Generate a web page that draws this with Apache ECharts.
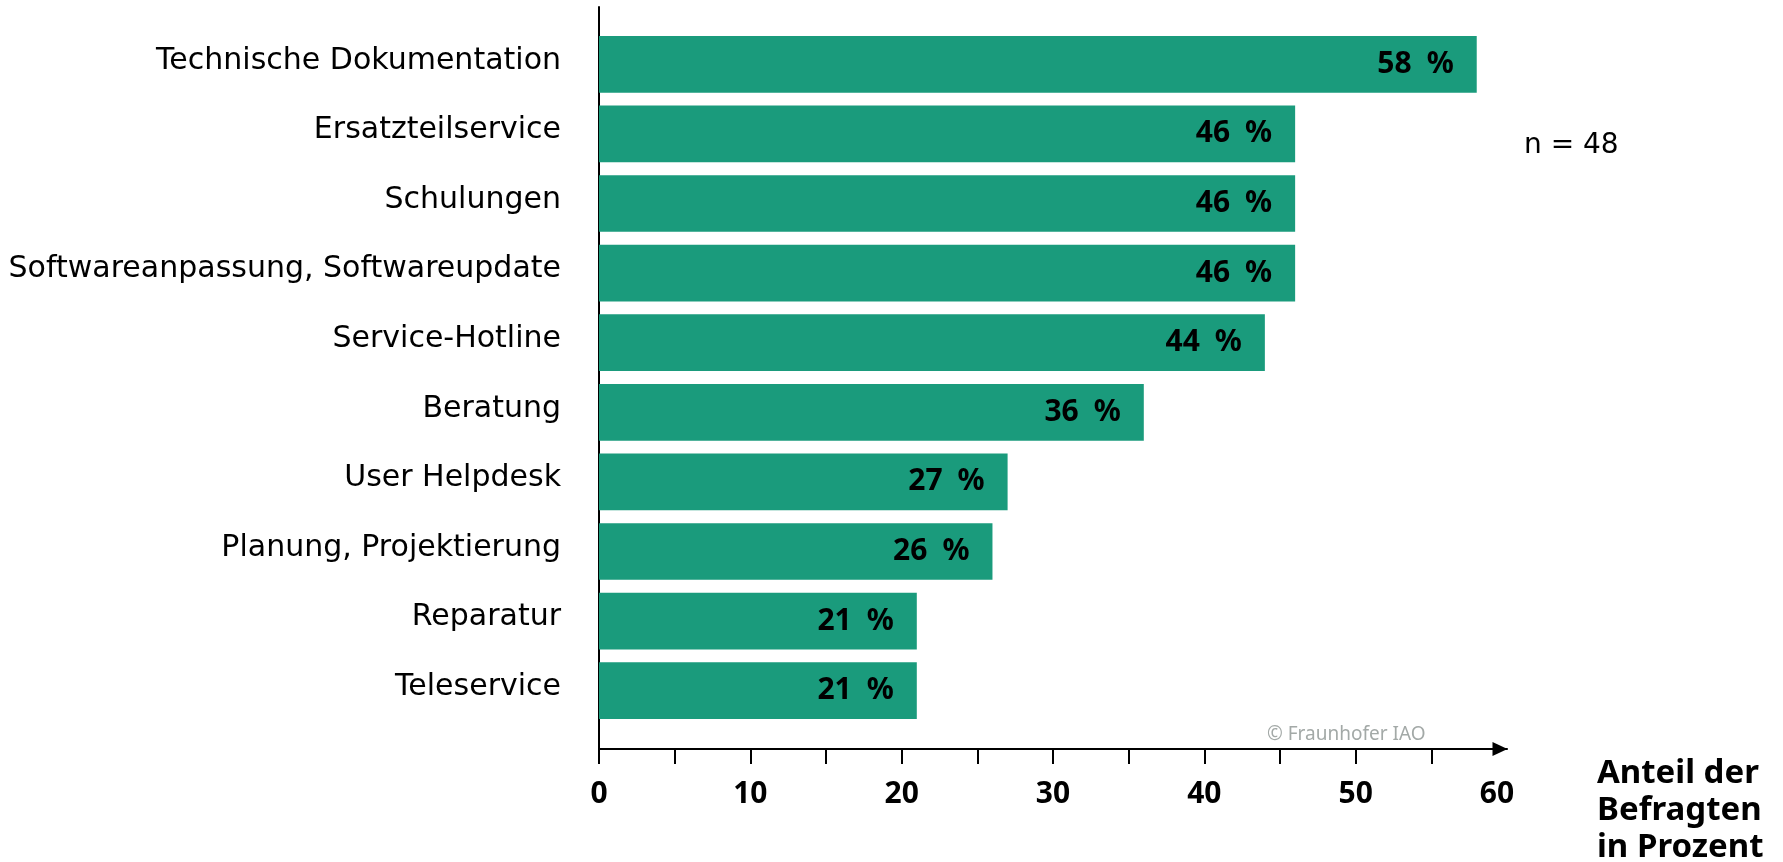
<!DOCTYPE html>
<html>
<head>
<meta charset="utf-8">
<title>Serviceleistungen</title>
<script src="https://cdn.jsdelivr.net/npm/echarts@6/dist/echarts.min.js"></script>
<style>
  html, body { margin: 0; padding: 0; background: #fff; }
  #chart { width: 1783px; height: 862px; }
</style>
</head>
<body>
<div id="chart"></div>
<script>
// Angebotene Serviceleistungen, Anteil der Befragten in Prozent
const categories = [
  'Technische Dokumentation',
  'Ersatzteilservice',
  'Schulungen',
  'Softwareanpassung, Softwareupdate',
  'Service-Hotline',
  'Beratung',
  'User Helpdesk',
  'Planung, Projektierung',
  'Reparatur',
  'Teleservice'
];
const shares = [58, 46, 46, 46, 44, 36, 27, 26, 21, 21];

// x axis: ticks every 5, labels every 10
const xTickValues = [0, 5, 10, 15, 20, 25, 30, 35, 40, 45, 50, 55];
const xLabelValues = [0, 10, 20, 30, 40, 50, 60];
const xMax = 60;

const sampleSize = 'n = 48';
const axisTitle = 'Anteil der\nBefragten\nin Prozent';
const copyright = '© Fraunhofer IAO';

const BAR_COLOR = '#1a9b7c';
const INK = '#000';
const REGULAR = '"DejaVu Sans", sans-serif';
const BOLD = '"Noto Sans", sans-serif';

const chart = echarts.init(document.getElementById('chart'), null, { renderer: 'canvas' });

// outer frame carries the two axis lines, inner grid carries the bars
const frame = { left: 599, top: 7, width: 908, height: 742 };
const plot = { left: 599, top: 29.5, width: 908, height: 696 };

const tickFont = { color: INK, fontFamily: BOLD, fontWeight: 'bold', fontSize: 30 };
const categoryFont = { color: INK, fontFamily: REGULAR, fontSize: 30 };

chart.setOption({
  animation: false,
  backgroundColor: '#fff',
  grid: [
    Object.assign({ outerBoundsMode: 'none', containLabel: false }, frame),
    Object.assign({ outerBoundsMode: 'none', containLabel: false }, plot)
  ],
  xAxis: [
    {
      gridIndex: 0,
      type: 'value',
      min: 0,
      max: xMax,
      interval: 5,
      splitLine: { show: false },
      axisLine: {
        show: true,
        lineStyle: { color: INK, width: 2 },
        symbol: ['none', 'triangle'],
        symbolSize: [14, 15],
        symbolOffset: [0, -7]
      },
      axisTick: {
        show: true,
        inside: false,
        length: 15,
        customValues: xTickValues,
        lineStyle: { color: INK, width: 2 }
      },
      axisLabel: Object.assign({
        show: true,
        customValues: xLabelValues,
        margin: 30,
        // the last label sits a little left of the arrow head
        formatter: function (v) { return v === xMax ? '{end|' + v + '}' : String(v); },
        rich: { end: Object.assign({ padding: [0, 20, 0, 0] }, tickFont) }
      }, tickFont)
    },
    {
      gridIndex: 1,
      type: 'value',
      min: 0,
      max: xMax,
      show: false
    }
  ],
  yAxis: [
    {
      gridIndex: 0,
      type: 'value',
      min: 0,
      max: 1,
      axisLine: { show: true, lineStyle: { color: INK, width: 2 } },
      axisTick: { show: false },
      axisLabel: { show: false },
      splitLine: { show: false }
    },
    {
      gridIndex: 1,
      type: 'category',
      inverse: true,
      data: categories,
      axisLine: { show: false },
      axisTick: { show: false },
      splitLine: { show: false },
      axisLabel: Object.assign({
        margin: 38,
        // names sit slightly above the middle of their bar
        formatter: function (name) { return '{c|' + name + '}'; },
        rich: { c: Object.assign({ padding: [0, 0, 7, 0] }, categoryFont) }
      }, categoryFont)
    }
  ],
  series: [
    {
      type: 'bar',
      xAxisIndex: 1,
      yAxisIndex: 1,
      data: shares,
      barCategoryGap: '18.5%',
      itemStyle: { color: BAR_COLOR },
      label: {
        show: true,
        position: 'insideRight',
        distance: 23,
        formatter: '{c}\u2002%',
        color: INK,
        fontFamily: BOLD,
        fontWeight: 'bold',
        fontSize: 30
      }
    }
  ],
  graphic: [
    {
      type: 'text',
      x: 1524,
      y: 146,
      style: {
        text: sampleSize,
        fill: INK,
        font: '28px ' + REGULAR,
        textVerticalAlign: 'middle'
      }
    },
    {
      type: 'text',
      x: 1267,
      y: 735,
      style: {
        text: copyright,
        fill: '#a3a9a7',
        font: '19px ' + BOLD,
        textVerticalAlign: 'middle'
      }
    },
    {
      type: 'text',
      x: 1597,
      y: 755,
      style: {
        text: axisTitle,
        fill: INK,
        font: 'bold 33px ' + BOLD,
        lineHeight: 37,
        textVerticalAlign: 'top'
      }
    }
  ]
});
</script>
</body>
</html>
